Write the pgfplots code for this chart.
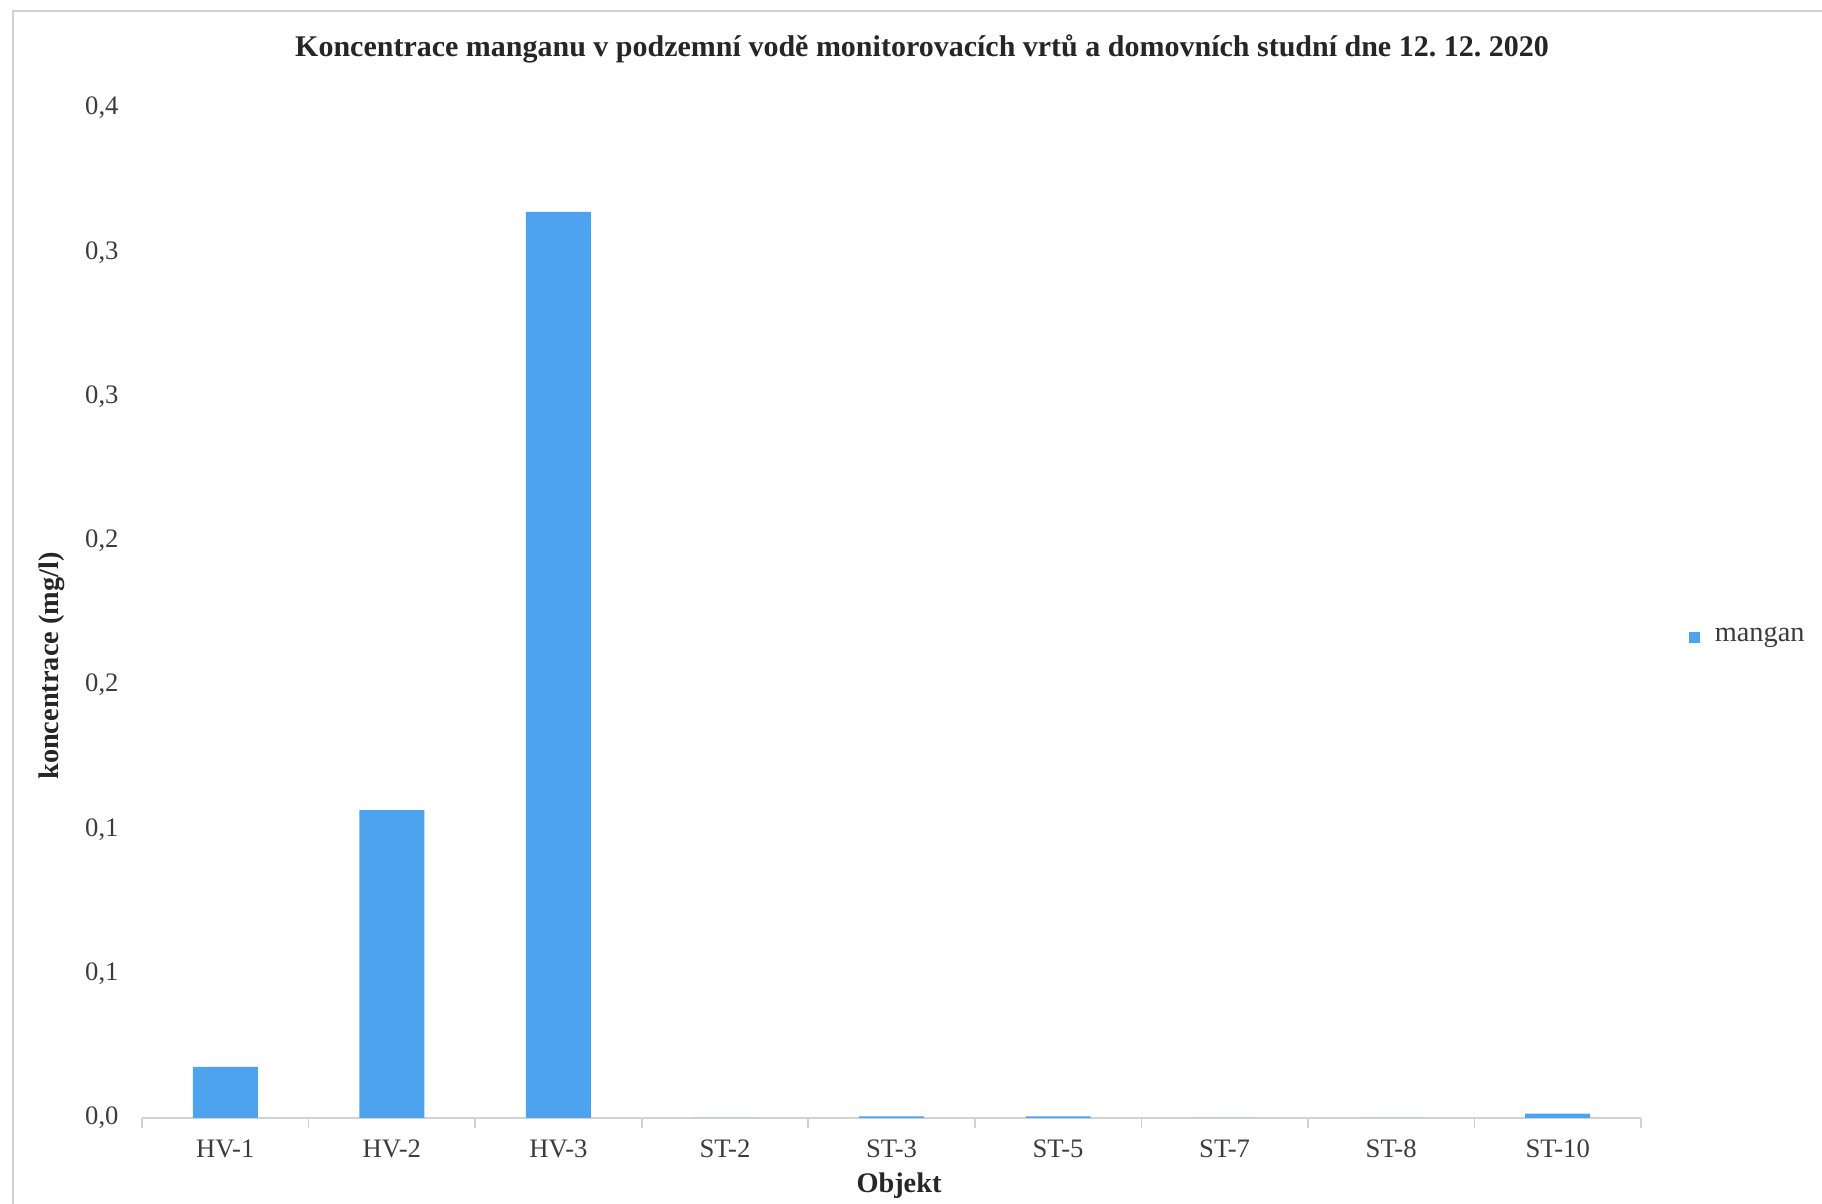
\documentclass[border=0pt]{standalone}
\usepackage{pgfplots}
\pgfplotsset{compat=1.18}
\usepackage{fontspec}
\setmainfont{Liberation Serif}
\definecolor{barblue}{RGB}{77,163,238}
\definecolor{axgray}{RGB}{210,210,210}
\definecolor{txt}{RGB}{60,60,60}
\begin{document}
\begin{tikzpicture}[x=0.3pt,y=0.3pt]
\path[use as bounding box] (0,0) rectangle (1822,1204);
\draw[axgray, line width=0.6pt] (13,0) -- (13,1193) -- (1822,1193);
\begin{axis}[
  at={(142pt*0.3,86pt*0.3)}, anchor=south west,
  scale only axis,
  width=449.7pt, height=303pt,
  xmin=-0.5, xmax=8.5,
  ymin=0, ymax=0.35,
  ytick={0,0.05,...,0.36},
  yticklabel={\pgfmathparse{\tick}\pgfmathprintnumber[fixed,fixed zerofill,precision=1,use comma]{\pgfmathresult}},
  xtick={0,...,8},
  xticklabels={HV-1,HV-2,HV-3,ST-2,ST-3,ST-5,ST-7,ST-8,ST-10},
  extra x ticks={-0.5,0.5,...,8.5},
  extra x tick labels={},
  extra x tick style={major tick length=3pt, tick style={axgray, line width=0.5pt}, tick align=outside},
  major tick length=0pt,
  axis y line*=left,
  y axis line style={draw=none},
  ytick style={draw=none},
  axis x line*=bottom,
  x axis line style={axgray, line width=0.8pt, -},
  tick label style={font=\fontsize{8}{9}\selectfont, text=txt},
  /pgf/number format/assume math mode=true,
  xticklabel style={yshift=-3pt},
  yticklabel style={xshift=-3.5pt},
  clip=false,
]
\addplot[ybar, bar width=19.5pt, fill=barblue, draw=none] coordinates {
 (0,0.0177) (1,0.1067) (2,0.314) (3,0) (4,0.0006) (5,0.0006) (6,0) (7,0) (8,0.0015)
};
\end{axis}
\node[font=\bfseries\fontsize{9}{11}\selectfont, text=black!85] at (922,1155) {Koncentrace manganu v podzemní vodě monitorovacích vrtů a domovních studní dne 12.~12.~2020};
\node[font=\bfseries\fontsize{8.5}{10}\selectfont, text=black!85, rotate=90] at (52,538) {koncentrace (mg/l)};
\node[font=\bfseries\fontsize{8.5}{10}\selectfont, text=black!85] at (899,18) {Objekt};
\fill[barblue] (1689,561) rectangle (1700,572);
\node[font=\fontsize{8.5}{10}\selectfont, text=txt, anchor=west] at (1703,567) {mangan};
\end{tikzpicture}
\end{document}
